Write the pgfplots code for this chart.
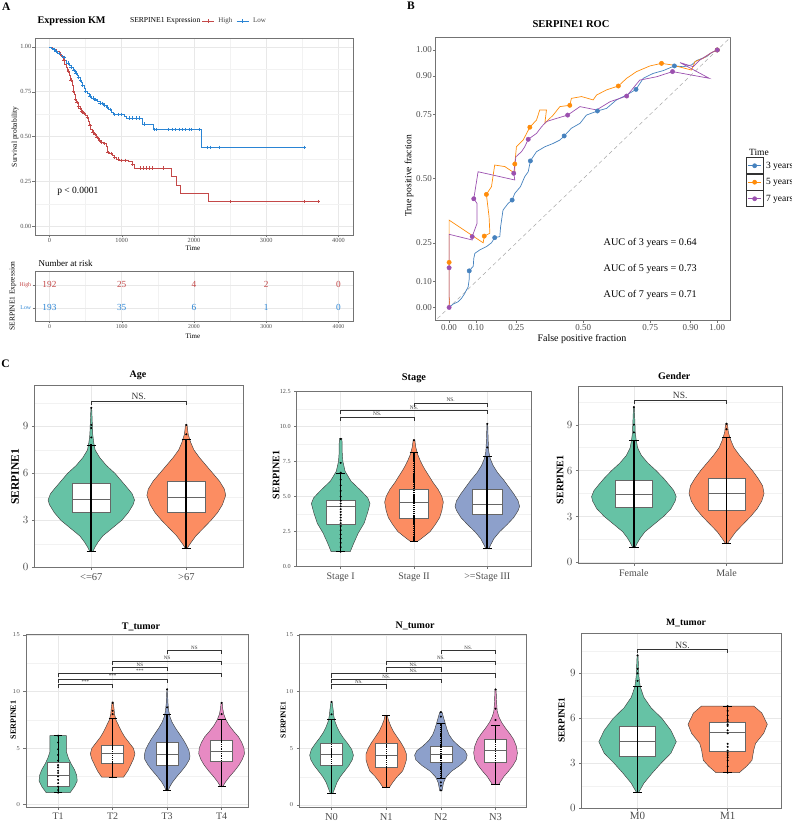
\documentclass[border=0pt]{standalone}
\usepackage{fontspec}
\setmainfont{Liberation Serif}
\usepackage{pgfplots}
\pgfplotsset{compat=1.18}
\usepackage{pgfplotstable}

\definecolor{sgreen}{HTML}{66C2A5}
\definecolor{sorange}{HTML}{FC8D62}
\definecolor{sblue}{HTML}{8DA0CB}
\definecolor{spink}{HTML}{E78AC3}
\definecolor{kmhigh}{RGB}{196,72,72}
\definecolor{kmlow}{RGB}{42,132,212}
\definecolor{rocA}{RGB}{70,130,190}
\definecolor{rocB}{RGB}{255,140,10}
\definecolor{rocC}{RGB}{155,80,175}
\newcommand{\fs}[1]{\fontsize{#1}{#1}\selectfont}

\pgfplotsset{
  gg/.style={scale only axis, anchor=south west, tick pos=left,
    axis line style={draw=black!55, line width=0.5pt},
    tick style={draw=black!55, line width=0.4pt}, tick align=outside,
    major tick length=2.5pt, minor tick length=0pt,
    xticklabel style={text=black!70}, yticklabel style={text=black!70},
    major grid style={draw=black!9, line width=0.5pt},
    minor grid style={draw=black!5, line width=0.3pt}},
  vio/.style={gg, xmajorgrids, ymajorgrids, yminorgrids, xtick={1,...,#1}},
}

% turn a (y, half width) table into a closed outline: up the right side, down the left
\newcommand{\mkviolin}[1]{%
  \pgfplotstablesort[sort key=y, sort cmp={float >}]{\tmprev}{#1}%
  \pgfplotstablecreatecol[create col/expr={-\thisrow{w}}]{s}{\tmprev}%
  \pgfplotstablecreatecol[create col/expr={\thisrow{w}}]{s}{#1}%
  \pgfplotstablevertcat{#1}{\tmprev}%
}
% violin: centre, colour, outline table
\newcommand{\violin}[3]{%
  \addplot[fill=#2, draw=black!75, line width=0.45pt, forget plot]
    table[x expr=#1+\thisrow{s}, y=y]{#3} -- cycle;
}
% box with error-bar whiskers: position, lower whisker, q1, median, q3, upper whisker, cap half width
\newcommand{\gbox}[7]{%
  \pgfmathsetmacro\gbl{#1-0.2}\pgfmathsetmacro\gbr{#1+0.2}%
  \pgfmathsetmacro\gcl{#1-#7}\pgfmathsetmacro\gcr{#1+#7}%
  \edef\gdo{%
    \noexpand\addplot[black, line width=0.5pt, forget plot] coordinates {(#1,#2) (#1,#6)};
    \noexpand\addplot[black, line width=0.5pt, forget plot] coordinates {(\gcl,#2) (\gcr,#2)};
    \noexpand\addplot[black, line width=0.5pt, forget plot] coordinates {(\gcl,#6) (\gcr,#6)};
    \noexpand\addplot[draw=black!60, fill=white, line width=0.5pt, forget plot]
      coordinates {(\gbl,#3) (\gbr,#3) (\gbr,#5) (\gbl,#5)} -- cycle;
    \noexpand\addplot[black!60, line width=0.6pt, forget plot] coordinates {(\gbl,#4) (\gbr,#4)};
  }\gdo
}
% significance bracket: x1, x2, label x, y, tip y, label, font size
\newcommand{\sig}[7]{%
  \addplot[black!80, line width=0.45pt, forget plot] coordinates {(#1,#5) (#1,#4) (#2,#4) (#2,#5)};
  \node[font=\fs{#7}, text=black!80, inner sep=0.6pt, anchor=south] at (axis cs:#3,#4) {#6};
}

% ---------- violin outlines (height, half width) ----------
\pgfplotstableread{
y w
1.00 0.015
1.3 0.04
1.6 0.07
2.0 0.12
2.5 0.22
3.0 0.32
3.5 0.39
4.0 0.44
4.3 0.455
4.7 0.43
5.0 0.39
5.5 0.32
6.0 0.25
6.5 0.16
7.0 0.09
7.5 0.04
8.0 0.025
8.5 0.015
9.0 0.012
9.6 0.008
10.19 0.004
}\tAgeA
\pgfplotstableread{
y w
1.21 0.01
1.5 0.04
2.0 0.1
2.5 0.18
3.0 0.26
3.5 0.33
4.0 0.38
4.6 0.415
5.0 0.40
5.5 0.35
6.0 0.28
6.5 0.21
7.0 0.14
7.5 0.08
8.0 0.045
8.5 0.02
9.1 0.008
}\tAgeB
\pgfplotstableread{
y w
1.07 0.13
1.7 0.18
2.4 0.24
3.1 0.32
3.9 0.37
4.5 0.40
4.9 0.37
5.4 0.28
6.1 0.14
6.8 0.06
7.5 0.03
8.2 0.02
8.8 0.02
9.14 0.015
}\tStA
\pgfplotstableread{
y w
1.78 0.04
2.0 0.1
2.5 0.22
3.0 0.29
3.5 0.35
4.0 0.38
4.6 0.40
5.0 0.38
5.5 0.33
6.0 0.26
6.5 0.2
7.0 0.14
7.5 0.09
8.0 0.05
8.5 0.025
9.07 0.01
}\tStB
\pgfplotstableread{
y w
1.28 0.02
1.6 0.05
2.0 0.09
2.5 0.17
3.0 0.27
3.5 0.36
4.0 0.42
4.3 0.44
4.7 0.42
5.2 0.36
5.7 0.29
6.2 0.22
6.7 0.14
7.2 0.08
7.7 0.04
8.2 0.02
9.0 0.012
10.18 0.005
}\tStC
\pgfplotstableread{
y w
1.00 0.015
1.3 0.04
1.6 0.07
2.0 0.12
2.5 0.22
3.0 0.32
3.5 0.40
4.0 0.445
4.3 0.457
4.7 0.43
5.0 0.39
5.5 0.32
6.0 0.24
6.5 0.15
7.0 0.08
7.5 0.04
8.0 0.025
8.5 0.015
9.0 0.012
9.6 0.008
10.15 0.004
}\tGeA
\pgfplotstableread{
y w
1.22 0.01
1.5 0.04
2.0 0.1
2.5 0.18
3.0 0.26
3.5 0.33
4.0 0.38
4.5 0.405
5.0 0.39
5.5 0.34
6.0 0.28
6.5 0.21
7.0 0.14
7.5 0.08
8.0 0.045
8.5 0.02
9.06 0.01
}\tGeB
\pgfplotstableread{
y w
1.07 0.22
1.6 0.30
2.1 0.35
2.6 0.34
3.1 0.30
3.6 0.24
4.1 0.19
4.7 0.15
5.3 0.15
5.8 0.15
6.1 0.15
}\tTA
\pgfplotstableread{
y w
2.43 0.2
3.0 0.28
3.5 0.33
4.0 0.38
4.5 0.41
5.0 0.38
5.5 0.30
6.0 0.22
6.5 0.16
7.0 0.11
7.5 0.06
8.0 0.035
8.5 0.025
9.08 0.01
}\tTB
\pgfplotstableread{
y w
1.24 0.02
1.6 0.05
2.0 0.10
2.5 0.18
3.0 0.27
3.5 0.35
4.0 0.41
4.3 0.42
4.8 0.40
5.3 0.35
5.8 0.29
6.3 0.22
6.8 0.15
7.3 0.09
7.8 0.05
8.3 0.03
9.0 0.015
10.2 0.005
}\tTC
\pgfplotstableread{
y w
1.6 0.02
2.0 0.07
2.5 0.15
3.0 0.24
3.5 0.32
4.0 0.38
4.5 0.42
5.0 0.41
5.5 0.37
6.0 0.31
6.5 0.22
7.0 0.14
7.5 0.08
8.0 0.04
8.5 0.02
9.02 0.01
}\tTD
\pgfplotstableread{
y w
1.0 0.02
1.5 0.06
2.0 0.10
2.5 0.16
3.0 0.24
3.5 0.32
4.0 0.38
4.4 0.40
4.9 0.37
5.4 0.30
5.9 0.22
6.4 0.15
6.9 0.10
7.4 0.06
7.9 0.04
8.4 0.03
9.1 0.01
}\tNA
\pgfplotstableread{
y w
1.56 0.06
2.0 0.12
2.5 0.2
3.0 0.3
3.5 0.34
4.0 0.37
4.5 0.37
5.0 0.33
5.5 0.27
6.0 0.2
6.5 0.13
7.0 0.08
7.5 0.04
7.92 0.02
}\tNB
\pgfplotstableread{
y w
1.24 0.02
2.0 0.05
2.5 0.10
3.0 0.20
3.5 0.35
4.0 0.46
4.4 0.48
4.8 0.44
5.2 0.33
5.7 0.22
6.2 0.15
6.7 0.11
7.2 0.08
7.7 0.05
8.2 0.02
}\tNC
\pgfplotstableread{
y w
1.83 0.06
2.5 0.15
3.0 0.24
3.5 0.32
4.0 0.38
4.6 0.40
5.2 0.38
5.8 0.33
6.3 0.26
6.8 0.18
7.3 0.11
7.8 0.06
8.3 0.03
9.0 0.02
10.2 0.01
}\tND
\pgfplotstableread{
y w
1.04 0.01
1.67 0.07
2.33 0.16
3.0 0.26
3.67 0.37
4.44 0.43
5.2 0.37
6.0 0.27
6.7 0.15
7.4 0.07
8.1 0.03
8.8 0.015
9.5 0.01
10.2 0.005
}\tMA
\pgfplotstableread{
y w
2.38 0.13
2.8 0.21
3.2 0.27
3.9 0.29
4.33 0.31
5.0 0.40
5.6 0.44
6.35 0.38
6.82 0.29
}\tMB
\mkviolin{\tAgeA}\mkviolin{\tAgeB}
\mkviolin{\tStA}\mkviolin{\tStB}\mkviolin{\tStC}
\mkviolin{\tGeA}\mkviolin{\tGeB}
\mkviolin{\tTA}\mkviolin{\tTB}\mkviolin{\tTC}\mkviolin{\tTD}
\mkviolin{\tNA}\mkviolin{\tNB}\mkviolin{\tNC}\mkviolin{\tND}
\mkviolin{\tMA}\mkviolin{\tMB}

\begin{document}
\begin{tikzpicture}

\node[font=\bfseries\fs{11.5}] at (6.3pt,815pt) {A};
\node[font=\bfseries\fs{11.5}] at (411pt,816.5pt) {B};
\node[font=\bfseries\fs{11.5}] at (5.5pt,458pt) {C};

% ================= Kaplan-Meier =================
\node[font=\bfseries\fs{10.2}, anchor=west] at (34pt,801pt) {Expression KM};
\node[font=\fs{7.6}, anchor=west] at (126.5pt,800.7pt) {SERPINE1 Expression};
\node[font=\fs{7.5}, rotate=90] at (15pt,685pt) {Survival probability};
\node[font=\fs{7}] at (193pt,573.5pt) {Time};
\begin{axis}[gg, at={(35pt,587pt)}, width=318pt, height=197pt,
  xmin=-200, xmax=4200, ymin=-0.05, ymax=1.05,
  xtick={0,1000,2000,3000,4000}, xticklabels={0,1000,2000,3000,4000},
  minor xtick={500,1500,2500,3500},
  ytick={0,0.25,0.5,0.75,1}, yticklabels={0.00,0.25,0.50,0.75,1.00},
  minor ytick={0.125,0.375,0.625,0.875},
  grid=both, ticklabel style={font=\fs{6.3}, inner sep=1pt},
  legend columns=-1,
  legend style={at={(0.524,1.0848)}, anchor=west, draw=none, fill=none,
    font=\fs{7}, text=black!75, inner sep=0pt, column sep=2pt},
  legend image code/.code={\draw[mark repeat=2, mark phase=2, #1] plot coordinates {(0pt,0pt) (6pt,0pt) (12pt,0pt)};}]
\addplot[kmhigh, line width=0.6pt, const plot, forget plot] coordinates {
(0,1) (40,0.995) (70,0.985) (100,0.975) (130,0.96) (160,0.945) (190,0.925) (210,0.905)
(230,0.885) (250,0.865) (270,0.84) (290,0.815) (310,0.785) (325,0.755) (340,0.735)
(360,0.71) (375,0.69) (395,0.67) (420,0.655) (440,0.64) (470,0.63) (495,0.62) (520,0.605)
(535,0.585) (550,0.56) (565,0.54) (590,0.525) (620,0.51) (650,0.495) (680,0.48) (710,0.47)
(750,0.46) (790,0.445) (800,0.41) (830,0.405) (870,0.395) (900,0.385) (930,0.375)
(970,0.367) (1090,0.36) (1140,0.345) (1180,0.323) (1690,0.277) (1750,0.23) (1810,0.183)
(2200,0.136) (3720,0.136)};
\addplot[kmlow, line width=0.6pt, const plot, forget plot] coordinates {
(0,1) (20,0.995) (50,0.985) (80,0.975) (110,0.965) (150,0.955) (180,0.94) (210,0.925)
(240,0.91) (270,0.895) (300,0.885) (330,0.87) (360,0.855) (380,0.84) (400,0.83) (420,0.815)
(440,0.8) (460,0.785) (480,0.77) (500,0.755) (520,0.74) (545,0.725) (580,0.715) (620,0.705)
(660,0.695) (700,0.685) (740,0.675) (780,0.665) (820,0.65) (850,0.635) (880,0.622)
(1040,0.613) (1070,0.604) (1280,0.57) (1430,0.538) (2100,0.439) (3530,0.439)};
\addplot[kmhigh, only marks, mark=+, mark size=1.7pt, line width=0.5pt, forget plot] coordinates {
(100,0.975) (150,0.96) (200,0.925) (260,0.865) (300,0.815) (330,0.755) (360,0.71) (380,0.69)
(400,0.67) (420,0.655) (445,0.64) (460,0.64) (480,0.63) (525,0.605) (560,0.56) (600,0.525)
(630,0.51) (660,0.495) (690,0.48) (720,0.47) (760,0.46) (810,0.41) (850,0.405) (900,0.385)
(950,0.375) (1000,0.367) (1050,0.367) (1150,0.345) (1250,0.323) (1300,0.323) (1340,0.323)
(1380,0.323) (1420,0.323) (1580,0.323) (2500,0.136) (3520,0.136) (3720,0.136)};
\addplot[kmlow, only marks, mark=+, mark size=1.7pt, line width=0.5pt, forget plot] coordinates {
(60,0.985) (90,0.975) (130,0.965) (200,0.94) (260,0.91) (300,0.885) (340,0.87) (370,0.855)
(400,0.83) (430,0.815) (460,0.785) (500,0.755) (560,0.725) (600,0.715) (640,0.705)
(700,0.685) (730,0.685) (760,0.675) (800,0.665) (840,0.65) (900,0.622) (950,0.622)
(1000,0.622) (1100,0.604) (1150,0.604) (1200,0.604) (1240,0.604) (1310,0.57) (1450,0.538)
(1480,0.538) (1650,0.538) (1700,0.538) (1740,0.538) (1800,0.538) (1840,0.538) (1880,0.538)
(1930,0.538) (1960,0.538) (2070,0.538) (2180,0.439) (2230,0.439) (2350,0.439) (3530,0.439)};
\addlegendimage{kmhigh, line width=0.6pt, mark=+, mark size=2pt}
\addlegendentry{High}
\addlegendimage{kmlow, line width=0.6pt, mark=+, mark size=2pt}
\addlegendentry{Low}
\node[font=\fs{9.5}, anchor=west] at (axis cs:60,0.196) {p < 0.0001};
\end{axis}

% ---------- risk table ----------
\node[font=\fs{9}, anchor=west] at (35pt,558.7pt) {Number at risk};
\node[font=\fs{7.5}, rotate=90] at (13pt,526pt) {SERPINE1 Expression};
\node[font=\fs{7}] at (193pt,486pt) {Time};
\begin{axis}[gg, at={(35pt,501pt)}, width=318pt, height=49.3pt,
  xmin=-200, xmax=4200, ymin=0.43, ymax=2.57,
  xtick={0,1000,2000,3000,4000}, xticklabels={0,1000,2000,3000,4000},
  minor xtick={500,1500,2500,3500},
  ytick={1,2}, yticklabels={\textcolor{kmlow}{Low},\textcolor{kmhigh}{High}},
  xmajorgrids, xminorgrids, ymajorgrids, ticklabel style={font=\fs{5.8}, inner sep=1.2pt}]
\addplot[draw=none, mark=none, nodes near coords, point meta=explicit symbolic,
  nodes near coords align={center},
  every node near coord/.append style={font=\fs{9.3}, text=kmhigh, anchor=center}]
  table[x=t, y=g, meta=n] {
t g n
0 2 192
1000 2 25
2000 2 4
3000 2 2
4000 2 0
};
\addplot[draw=none, mark=none, nodes near coords, point meta=explicit symbolic,
  nodes near coords align={center},
  every node near coord/.append style={font=\fs{9.3}, text=kmlow, anchor=center}]
  table[x=t, y=g, meta=n] {
t g n
0 1 193
1000 1 35
2000 1 6
3000 1 1
4000 1 0
};
\end{axis}

% ================= ROC =================
\node[font=\bfseries\fs{10.5}] at (571pt,797.7pt) {SERPINE1 ROC};
\node[font=\fs{9.5}, rotate=90] at (409pt,646pt) {True positive fraction};
\node[font=\fs{10}] at (582pt,483pt) {False positive fraction};
\node[font=\fs{9.5}, anchor=west] at (745.5pt,669.3pt) {Time};
\begin{axis}[gg, at={(435.7pt,501.7pt)}, width=295pt, height=283.2pt,
  xmin=-0.05, xmax=1.05, ymin=-0.05, ymax=1.05,
  xtick={0,0.1,0.25,0.5,0.75,0.9,1}, xticklabels={0.00,0.10,0.25,0.50,0.75,0.90,1.00},
  ytick={0,0.1,0.25,0.5,0.75,0.9,1}, yticklabels={0.00,0.10,0.25,0.50,0.75,0.90,1.00},
  ticklabel style={font=\fs{9}, inner sep=1.2pt},
  legend cell align=left,
  legend style={at={(1.052,0.5756)}, anchor=north west, draw=none, fill=none,
    font=\fs{9.5}, inner sep=0pt, row sep=0pt, column sep=3pt, nodes={inner sep=0pt}},
  legend image code/.code={\draw[black!80, line width=0.5pt, fill=white] (0pt,-8pt) rectangle (16.3pt,8pt);
     \draw[mark repeat=2, mark phase=2, #1] plot coordinates {(1.5pt,0pt) (8.15pt,0pt) (14.8pt,0pt)};}]
\addplot[black!35, line width=0.5pt, dash pattern=on 4pt off 3pt, forget plot] coordinates {(-0.1,-0.1) (1.1,1.1)};
\addplot[rocA, line width=0.7pt, forget plot] coordinates {
(0,0) (0.015,0.013) (0.034,0.022) (0.046,0.035) (0.058,0.054) (0.071,0.08) (0.075,0.11)
(0.075,0.142) (0.09,0.16) (0.092,0.19) (0.096,0.21) (0.114,0.223) (0.139,0.236) (0.158,0.251)
(0.17,0.271) (0.189,0.275) (0.192,0.313) (0.201,0.378) (0.22,0.404) (0.235,0.417)
(0.245,0.443) (0.266,0.469) (0.282,0.508) (0.295,0.527) (0.303,0.569) (0.313,0.585)
(0.326,0.605) (0.357,0.624) (0.388,0.637) (0.413,0.65) (0.429,0.666) (0.456,0.696)
(0.488,0.715) (0.512,0.747) (0.553,0.763) (0.587,0.773) (0.624,0.806) (0.662,0.825)
(0.697,0.847) (0.724,0.89) (0.761,0.909) (0.799,0.92) (0.84,0.938) (0.873,0.935)
(0.904,0.942) (0.923,0.959) (0.96,0.974) (0.979,0.99) (1,1)};
\addplot[rocB, line width=0.7pt, forget plot] coordinates {
(0,0) (0.002,0.028) (0,0.041) (0,0.175) (0,0.339) (0.127,0.251) (0.131,0.277) (0.152,0.288)
(0.149,0.352) (0.139,0.439) (0.158,0.469) (0.17,0.553) (0.208,0.547) (0.245,0.521)
(0.245,0.557) (0.251,0.624) (0.276,0.65) (0.301,0.7) (0.326,0.728) (0.338,0.767)
(0.363,0.767) (0.357,0.715) (0.388,0.747) (0.413,0.78) (0.45,0.785) (0.456,0.812)
(0.494,0.819) (0.537,0.806) (0.55,0.825) (0.587,0.845) (0.631,0.86) (0.662,0.89)
(0.699,0.916) (0.749,0.938) (0.792,0.948) (0.83,0.942) (0.904,0.922) (0.917,0.955)
(0.948,0.968) (0.979,0.99) (1,1)};
\addplot[rocC, line width=0.7pt, forget plot] coordinates {
(0,0) (0,0.041) (0,0.154) (0,0.284) (0.086,0.262) (0.086,0.275) (0.104,0.326) (0.104,0.404)
(0.092,0.422) (0.108,0.527) (0.245,0.495) (0.241,0.521) (0.249,0.585) (0.27,0.605)
(0.282,0.624) (0.295,0.653) (0.326,0.676) (0.345,0.702) (0.363,0.722) (0.4,0.734)
(0.442,0.747) (0.488,0.78) (0.55,0.767) (0.6,0.799) (0.662,0.821) (0.711,0.883)
(0.774,0.896) (0.833,0.916) (0.97,0.89) (0.861,0.951) (0.91,0.935) (0.935,0.961)
(0.979,0.99) (1,1)};
\addplot[rocA, only marks, mark=*, mark size=2.2pt, forget plot] coordinates {
(0.075,0.142) (0.17,0.271) (0.235,0.417) (0.303,0.569) (0.429,0.666) (0.553,0.763)
(0.697,0.847) (0.84,0.938) (1,1)};
\addplot[rocB, only marks, mark=*, mark size=2.2pt, forget plot] coordinates {
(0,0.175) (0.131,0.277) (0.139,0.439) (0.245,0.557) (0.301,0.7) (0.45,0.785)
(0.631,0.86) (0.792,0.948) (1,1)};
\addplot[rocC, only marks, mark=*, mark size=2.2pt, forget plot] coordinates {
(0,0) (0,0.154) (0.086,0.275) (0.092,0.422) (0.241,0.521) (0.295,0.653) (0.442,0.747)
(0.662,0.821) (0.833,0.916) (1,1)};
\addlegendimage{rocA, line width=0.7pt, mark=*, mark size=2pt}
\addlegendentry{3 years}
\addlegendimage{rocB, line width=0.7pt, mark=*, mark size=2pt}
\addlegendentry{5 years}
\addlegendimage{rocC, line width=0.7pt, mark=*, mark size=2pt}
\addlegendentry{7 years}
\node[font=\fs{10.2}] at (axis cs:0.75,0.25) {AUC of 3 years = 0.64};
\node[font=\fs{10.2}] at (axis cs:0.75,0.15) {AUC of 5 years = 0.73};
\node[font=\fs{10.2}] at (axis cs:0.75,0.05) {AUC of 7 years = 0.71};
\end{axis}

% ================= Age =================
\node[font=\bfseries\fs{10}] at (138pt,447pt) {Age};
\node[font=\bfseries\fs{11.5}, rotate=90] at (15pt,345pt) {SERPINE1};
\begin{axis}[vio=2, at={(34.3pt,254.7pt)}, width=209pt, height=182.3pt,
  xmin=0.4, xmax=2.6, ymin=0, ymax=11.65, xticklabels={<=67,>67},
  ytick={0,3,6,9}, minor ytick={1.5,4.5,7.5,10.5},
  xticklabel style={font=\fs{10.5}}, yticklabel style={font=\fs{11}}]
\violin{1}{sgreen}{\tAgeA}
\violin{2}{sorange}{\tAgeB}
\gbox{1}{1.0}{3.49}{4.34}{5.38}{7.83}{0.05}
\gbox{2}{1.21}{3.51}{4.49}{5.47}{8.17}{0.05}
\addplot[black, line width=1.8pt, forget plot] coordinates {(1,1.0) (1,7.9)};
\addplot[black, line width=1.8pt, forget plot] coordinates {(2,1.21) (2,8.2)};
\addplot[black, only marks, mark=*, mark size=0.8pt, forget plot] coordinates {
(1,8.3) (1,8.9) (1,9.1) (1,10.19) (2,8.5) (2,9.1)};
\sig{1}{2}{1.5}{10.64}{10.36}{NS.}{9.5}
\end{axis}

% ================= Stage =================
\node[font=\bfseries\fs{10.3}] at (414pt,443.7pt) {Stage};
\node[font=\bfseries\fs{10}, rotate=90] at (276pt,347pt) {SERPINE1};
\begin{axis}[vio=3, at={(296.7pt,255.3pt)}, width=234.6pt, height=175.7pt,
  xmin=0.4, xmax=3.6, ymin=0, ymax=12.52,
  xticklabels={Stage I,Stage II,>=Stage III},
  ytick={0,2.5,5,7.5,10,12.5}, yticklabels={0.0,2.5,5.0,7.5,10.0,12.5},
  minor ytick={1.25,3.75,6.25,8.75,11.25},
  xticklabel style={font=\fs{10}}, yticklabel style={font=\fs{6.2}}]
\violin{1}{sgreen}{\tStA}
\violin{2}{sorange}{\tStB}
\violin{3}{sblue}{\tStC}
\gbox{1}{1.07}{3.01}{4.32}{4.74}{6.69}{0.06}
\gbox{2}{1.78}{3.42}{4.56}{5.5}{8.19}{0.06}
\gbox{3}{1.28}{3.77}{4.48}{5.55}{7.88}{0.06}
\addplot[black, only marks, mark=*, mark size=0.8pt, forget plot] coordinates {
(1,1.07) (1,1.4) (1,1.7) (1,2.0) (1,2.3) (1,2.6) (1,2.9) (1,3.1) (1,3.3) (1,3.5) (1,3.7)
(1,3.9) (1,4.1) (1,4.3) (1,4.5) (1,4.7) (1,5.0) (1,5.4) (1,5.8) (1,6.2) (1,6.7) (1,7.4) (1,9.1)};
\addplot[black, line width=1.5pt, dash pattern=on 1.5pt off 0.6pt, forget plot] coordinates {(2,1.78) (2,8.2)};
\addplot[black, line width=1.7pt, forget plot] coordinates {(3,1.28) (3,7.9)};
\addplot[black, only marks, mark=*, mark size=0.8pt, forget plot] coordinates {
(2,9.0) (3,8.5) (3,10.18)};
\sig{1}{2}{1.5}{10.68}{10.4}{NS.}{5.4}
\sig{1}{3}{2}{11.15}{10.87}{NS.}{5.4}
\sig{2}{3}{2.5}{11.68}{11.4}{NS.}{5.4}
\end{axis}

% ================= Gender =================
\node[font=\bfseries\fs{10}] at (674.3pt,446.3pt) {Gender};
\node[font=\bfseries\fs{10}, rotate=90] at (560pt,342pt) {SERPINE1};
\begin{axis}[vio=2, at={(578.3pt,258.7pt)}, width=203.8pt, height=177.3pt,
  xmin=0.4, xmax=2.6, ymin=-0.06, ymax=11.53, xticklabels={Female,Male},
  ytick={0,3,6,9}, minor ytick={1.5,4.5,7.5,10.5},
  xticklabel style={font=\fs{10}}, yticklabel style={font=\fs{11}}]
\violin{1}{sgreen}{\tGeA}
\violin{2}{sorange}{\tGeB}
\gbox{1}{1.0}{3.59}{4.46}{5.4}{7.97}{0.05}
\gbox{2}{1.22}{3.44}{4.53}{5.47}{8.17}{0.05}
\addplot[black, line width=1.8pt, forget plot] coordinates {(1,1.0) (1,8.0)};
\addplot[black, line width=1.8pt, forget plot] coordinates {(2,1.22) (2,8.2)};
\addplot[black, only marks, mark=*, mark size=0.8pt, forget plot] coordinates {
(1,8.5) (1,9.0) (1,10.15) (2,8.7) (2,9.06)};
\sig{1}{2}{1.5}{10.63}{10.35}{NS.}{9.5}
\end{axis}

% ================= T_tumor =================
\node[font=\bfseries\fs{10}] at (141pt,195.3pt) {T\_tumor};
\node[font=\bfseries\fs{8}, rotate=90] at (13.3pt,102pt) {SERPINE1};
\begin{axis}[vio=4, at={(26pt,14.7pt)}, width=222.3pt, height=173pt,
  xmin=0.41, xmax=4.49, ymin=-0.23, ymax=15.06, xticklabels={T1,T2,T3,T4},
  ytick={0,5,10,15}, minor ytick={2.5,7.5,12.5},
  xticklabel style={font=\fs{10}}, yticklabel style={font=\fs{6}}]
\violin{1}{sgreen}{\tTA}
\violin{2}{sorange}{\tTB}
\violin{3}{sblue}{\tTC}
\violin{4}{spink}{\tTD}
\gbox{1}{1.07}{1.66}{2.57}{3.78}{6.1}{0.075}
\gbox{2}{2.43}{3.63}{4.51}{5.22}{7.6}{0.075}
\gbox{3}{1.24}{3.52}{4.45}{5.53}{8.0}{0.075}
\gbox{4}{1.6}{3.85}{4.71}{5.71}{7.58}{0.075}
\addplot[black, only marks, mark=*, mark size=0.8pt, forget plot] coordinates {
(1,1.07) (1,1.3) (1,1.6) (1,1.9) (1,2.2) (1,2.5) (1,2.8) (1,3.0) (1,3.3) (1,3.5) (1,3.9)
(1,4.4) (1,4.9) (1,5.5) (1,6.1) (2,8.0) (2,8.3) (2,9.0) (3,8.6) (3,10.2) (4,8.0) (4,9.0)};
\addplot[black, line width=1.4pt, dash pattern=on 1.5pt off 0.6pt, forget plot] coordinates {(2,2.43) (2,7.6)};
\addplot[black, line width=1.6pt, forget plot] coordinates {(3,1.24) (3,8.0)};
\addplot[black, line width=1.4pt, dash pattern=on 1.4pt off 0.9pt, forget plot] coordinates {(4,1.6) (4,7.58)};
\sig{1}{2}{1.5}{10.63}{10.28}{***}{5}
\sig{1}{3}{2}{11.13}{10.78}{***}{5}
\sig{1}{4}{2.5}{11.6}{11.25}{***}{5}
\sig{2}{3}{2.5}{12.13}{11.78}{NS}{5}
\sig{2}{4}{3}{12.72}{12.37}{NS}{5}
\sig{3}{4}{3.5}{13.67}{13.32}{NS}{5}
\end{axis}

% ================= N_tumor =================
\node[font=\bfseries\fs{10}] at (415pt,196pt) {N\_tumor};
\node[font=\bfseries\fs{7.5}, rotate=90] at (283.3pt,102pt) {SERPINE1};
\begin{axis}[vio=4, at={(299.3pt,14.7pt)}, width=227.4pt, height=173.3pt,
  xmin=0.41, xmax=4.57, ymin=-0.2, ymax=15.09, xticklabels={N0,N1,N2,N3},
  ytick={0,5,10,15}, minor ytick={2.5,7.5,12.5},
  xticklabel style={font=\fs{10.5}}, yticklabel style={font=\fs{6}}]
\violin{1}{sgreen}{\tNA}
\violin{2}{sorange}{\tNB}
\violin{3}{sblue}{\tNC}
\violin{4}{spink}{\tND}
\gbox{1}{1.0}{3.5}{4.48}{5.42}{7.54}{0.075}
\gbox{2}{1.56}{3.3}{4.39}{5.42}{7.92}{0.075}
\gbox{3}{2.33}{3.74}{4.48}{5.21}{7.19}{0.075}
\gbox{4}{1.83}{3.74}{4.83}{5.78}{7.04}{0.075}
\addplot[black, line width=1.4pt, dash pattern=on 1.5pt off 0.6pt, forget plot] coordinates {(1,1.0) (1,7.54)};
\addplot[black, line width=1.4pt, dash pattern=on 1.4pt off 0.8pt, forget plot] coordinates {(2,1.56) (2,7.92)};
\addplot[black, line width=1.4pt, dash pattern=on 1.4pt off 0.8pt, forget plot] coordinates {(3,2.33) (3,7.19)};
\addplot[black, line width=1.4pt, dash pattern=on 1.4pt off 0.9pt, forget plot] coordinates {(4,1.83) (4,7.04)};
\addplot[black, only marks, mark=*, mark size=0.8pt, forget plot] coordinates {
(1,8.0) (1,9.1) (3,1.3) (3,1.7) (3,2.0) (3,7.8) (3,8.2) (4,7.5) (4,8.5) (4,10.2)};
\sig{1}{2}{1.5}{10.63}{10.28}{NS.}{5}
\sig{1}{3}{2}{11.13}{10.78}{NS.}{5}
\sig{1}{4}{2.5}{11.6}{11.25}{NS.}{5}
\sig{2}{3}{2.5}{12.13}{11.78}{NS.}{5}
\sig{2}{4}{3}{12.72}{12.37}{NS.}{5}
\sig{3}{4}{3.5}{13.67}{13.32}{NS.}{5}
\end{axis}

% ================= M_tumor =================
\node[font=\bfseries\fs{9.7}] at (686pt,199.3pt) {M\_tumor};
\node[font=\bfseries\fs{9.3}, rotate=90] at (561.7pt,102pt) {SERPINE1};
\begin{axis}[vio=2, at={(581.7pt,13.7pt)}, width=200pt, height=175pt,
  xmin=0.38, xmax=2.6, ymin=0, ymax=11.67, xticklabels={M0,M1},
  ytick={0,3,6,9}, minor ytick={1.5,4.5,7.5,10.5},
  xticklabel style={font=\fs{11}, inner sep=1.2pt}, yticklabel style={font=\fs{11}}]
\violin{1}{sgreen}{\tMA}
\violin{2}{sorange}{\tMB}
\gbox{1}{1.04}{3.49}{4.44}{5.44}{8.15}{0.05}
\gbox{2}{2.38}{3.82}{5.04}{5.73}{6.82}{0.05}
\addplot[black, line width=1.8pt, forget plot] coordinates {(1,1.04) (1,8.15)};
\addplot[black, only marks, mark=*, mark size=0.8pt, forget plot] coordinates {
(1,8.5) (1,9.0) (1,9.3) (1,10.2)
(2,2.38) (2,2.8) (2,3.2) (2,3.4) (2,3.55) (2,3.7) (2,3.85) (2,4.1) (2,4.3) (2,5.0)
(2,5.2) (2,5.5) (2,5.6) (2,5.8) (2,5.9) (2,6.2) (2,6.5) (2,6.82)};
\sig{1}{2}{1.5}{10.6}{10.33}{NS.}{9.5}
\end{axis}

\pgfresetboundingbox
\useasboundingbox (0pt,0pt) rectangle (792pt,822pt);
\end{tikzpicture}
\end{document}
